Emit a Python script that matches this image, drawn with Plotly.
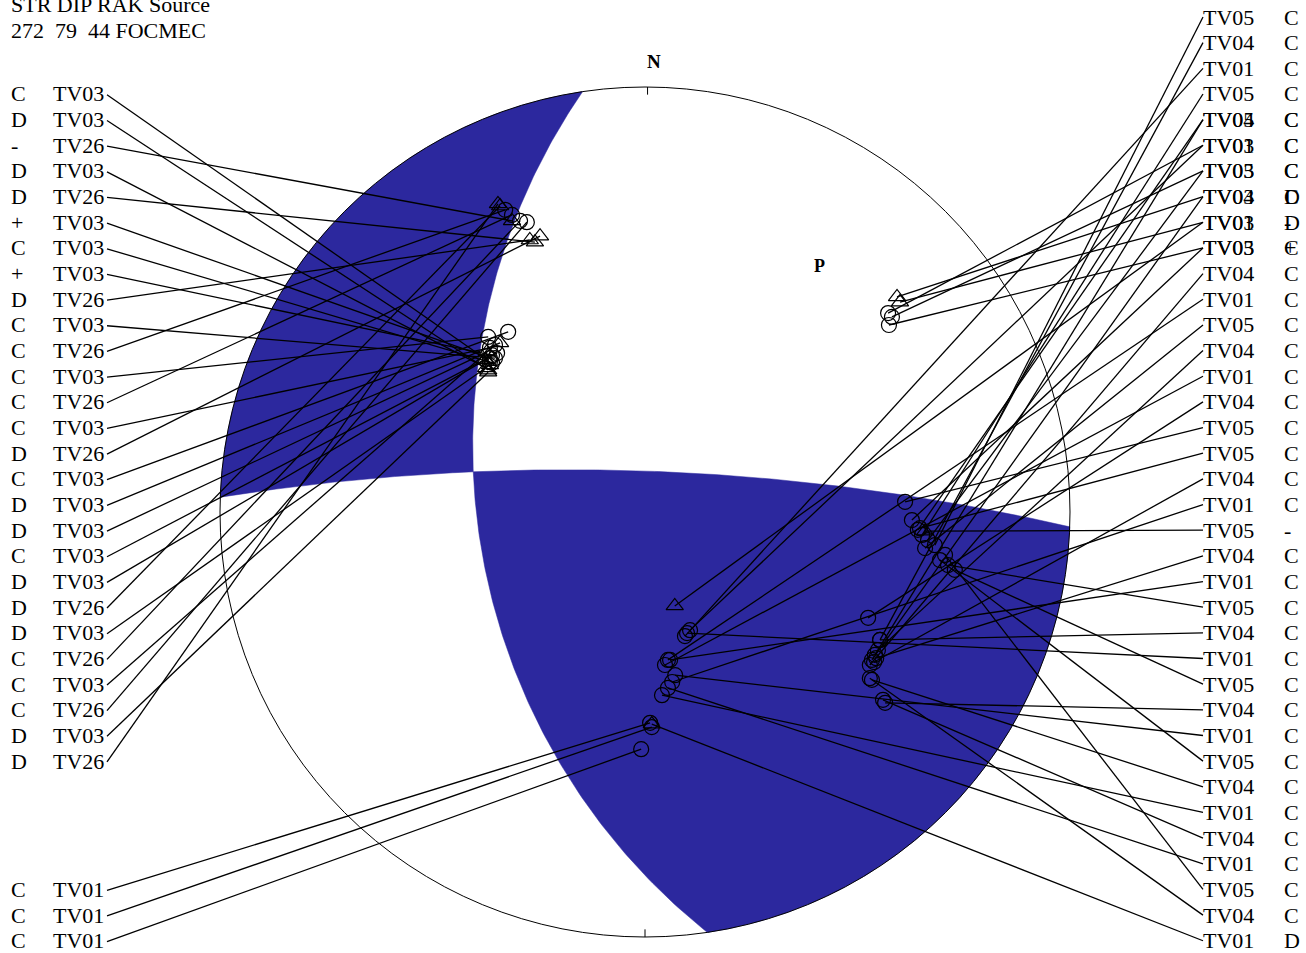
import numpy as np
import plotly.graph_objects as go

# ---------------- data ----------------
STRIKE, DIP, RAKE = 272, 79, 44
SOURCE = "FOCMEC"
HEADER = "STR DIP RAK Source"

# left column (top -> bottom): polarity, station, projected position (east, north; unit radius)
left_pol = ["C", "D", "-", "D", "D", "+", "C", "+", "D", "C", "C", "C", "C", "C", "D",
            "C", "D", "D", "C", "D", "D", "D", "C", "C", "C", "D", "D", "C", "C", "C"]
left_sta = ["TV03", "TV03", "TV26", "TV03", "TV26", "TV03", "TV03", "TV03", "TV26", "TV03",
            "TV26", "TV03", "TV26", "TV03", "TV26", "TV03", "TV03", "TV03", "TV03", "TV03",
            "TV26", "TV03", "TV26", "TV03", "TV26", "TV03", "TV26", "TV01", "TV01", "TV01"]
left_x = [-0.365, -0.369, -0.313, -0.374, -0.259, -0.365, -0.360, -0.360, -0.271, -0.353,
          -0.329, -0.369, -0.313, -0.365, -0.247, -0.322, -0.341, -0.372, -0.348, -0.376,
          -0.341, -0.365, -0.294, -0.353, -0.278, -0.369, -0.346, 0.012, 0.016, -0.009]
left_y = [0.353, 0.334, 0.685, 0.339, 0.635, 0.362, 0.351, 0.369, 0.640, 0.362,
          0.711, 0.412, 0.699, 0.386, 0.649, 0.424, 0.398, 0.376, 0.374, 0.358,
          0.720, 0.346, 0.685, 0.393, 0.682, 0.329, 0.725, -0.496, -0.506, -0.558]

# right column (top -> bottom)
right_sta = ["TV05", "TV04", "TV01", "TV05", "TV04", "TV01", "TV05", "TV04", "TV01", "TV05",
             "TV04", "TV01", "TV05", "TV04", "TV01", "TV04", "TV05", "TV05", "TV04", "TV01",
             "TV05", "TV04", "TV01", "TV05", "TV04", "TV01", "TV05", "TV04", "TV01", "TV05",
             "TV04", "TV01", "TV04", "TV01", "TV05", "TV04", "TV01"]
right_pol = ["C", "C", "C", "C", "C", "C", "C", "C", "D", "C",
             "C", "C", "C", "C", "C", "C", "C", "C", "C", "C",
             "-", "C", "C", "C", "C", "C", "C", "C", "C", "C",
             "C", "C", "C", "C", "C", "C", "D"]
right_x = [0.682, 0.553, 0.094, 0.652, 0.541, 0.106, 0.666, 0.534, 0.070, 0.628,
           0.529, 0.054, 0.659, 0.548, 0.047, 0.525, 0.612, 0.647, 0.539, 0.064,
           0.659, 0.544, 0.059, 0.713, 0.553, 0.099, 0.729, 0.565, 0.071, 0.694,
           0.534, 0.040, 0.560, 0.054, 0.706, 0.529, 0.016]
right_y = [-0.078, -0.301, -0.292, -0.054, -0.336, -0.278, -0.066, -0.348, -0.221, -0.019,
           -0.360, -0.348, -0.085, -0.325, -0.360, -0.249, 0.024, -0.038, -0.353, -0.400,
           -0.045, -0.344, -0.348, -0.125, -0.301, -0.285, -0.136, -0.449, -0.384, -0.113,
           -0.395, -0.431, -0.442, -0.414, -0.101, -0.391, -0.499]

# second (overprinted) right-column labels, rows 4..9
right2_sta = ["TV05", "TV03", "TV03", "TV03", "TV03", "TV03"]
right2_pol = ["C", "C", "C", "D", "-", "+"]
right2_x = [0.642, 0.572, 0.581, 0.593, 0.600, 0.574]
right2_y = [-0.042, 0.468, 0.459, 0.506, 0.494, 0.440]

# ---------------- layout constants (pixels) ----------------
W, H = 1306, 953
CX, CY, R_PX = 645, 512, 425
ROW0, ROW_DY = 17, 25.66
left_rows = list(range(3, 30)) + [34, 35, 36]
right_rows = list(range(0, 37))
right2_rows = list(range(4, 10))
BLUE = "rgb(44,40,158)"
FONT = "Liberation Serif"
FS = 22


def ux(p):
    return (p - CX) / R_PX


def uy(p):
    return (CY - p) / R_PX


def row_y(i):
    return uy(ROW0 + ROW_DY * i)


# ---------------- focal mechanism geometry ----------------
def plane_vectors(strike, dip):
    phi, dl = np.radians(strike), np.radians(dip)
    s = np.array([np.cos(phi), np.sin(phi), 0.0])
    d = np.array([np.cos(phi + np.pi / 2) * np.cos(dl),
                  np.sin(phi + np.pi / 2) * np.cos(dl), np.sin(dl)])
    return s, d


def stereo(v):
    v = np.atleast_2d(v)
    v = v / np.linalg.norm(v, axis=1)[:, None]
    v = np.where(v[:, 2:3] < 0, -v, v)
    plunge = np.arcsin(np.clip(v[:, 2], -1, 1))
    az = np.arctan2(v[:, 1], v[:, 0])
    r = np.tan((np.pi / 2 - plunge) / 2)
    return r * np.sin(az), r * np.cos(az)


phi, dl, lam = np.radians([STRIKE, DIP, RAKE])
n1 = np.array([-np.sin(dl) * np.sin(phi), np.sin(dl) * np.cos(phi), -np.cos(dl)])
u1 = np.array([np.cos(lam) * np.cos(phi) + np.sin(lam) * np.cos(dl) * np.sin(phi),
               np.cos(lam) * np.sin(phi) - np.sin(lam) * np.cos(dl) * np.cos(phi),
               -np.sin(lam) * np.sin(dl)])
n2 = u1 if u1[2] < 0 else -u1
dip2 = np.degrees(np.arccos(-n2[2]))
strike2 = (np.degrees(np.arctan2(n2[1], n2[0])) - 90) % 360

B = np.cross(n1, u1)
if B[2] < 0:
    B = -B
P_axis = (n1 - u1) / np.sqrt(2)

s1, d1 = plane_vectors(STRIKE, DIP)
s2, d2 = plane_vectors(strike2, dip2)
t1B = np.arctan2(B @ d1, B @ s1)
t2B = np.arctan2(B @ d2, B @ s2)


def plane_pts(s, d, t0, t1, n=120):
    t = np.linspace(t0, t1, n)
    v = np.cos(t)[:, None] * s + np.sin(t)[:, None] * d
    return stereo(v)


def arc(a0, a1, n=120):
    a = np.radians(np.linspace(a0, a1, n))
    return np.sin(a), np.cos(a)


# NW compressional quadrant
xa, ya = plane_pts(s1, d1, 0, t1B)
xb, yb = plane_pts(s2, d2, t2B, np.pi)
xc, yc = arc(strike2 + 180, STRIKE)
poly1_x = np.concatenate([xa, xb, xc])
poly1_y = np.concatenate([ya, yb, yc])
# SE compressional quadrant
xa, ya = plane_pts(s1, d1, t1B, np.pi)
xc, yc = arc((STRIKE + 180) % 360, strike2)
xb, yb = plane_pts(s2, d2, 0, t2B)
poly2_x = np.concatenate([xa, xc, xb])
poly2_y = np.concatenate([ya, yc, yb])

fig = go.Figure()
for px_, py_ in [(poly1_x, poly1_y), (poly2_x, poly2_y)]:
    fig.add_trace(go.Scatter(x=px_, y=py_, mode="lines", fill="toself",
                             fillcolor=BLUE, line=dict(color=BLUE, width=0.5),
                             hoverinfo="skip", showlegend=False))

# leader lines
lx, ly = [], []
LEFT_END = ux(107)
RIGHT_END = ux(1203)
for r, x, y in zip(left_rows, left_x, left_y):
    lx += [LEFT_END, x, None]
    ly += [row_y(r) - 0.002, y, None]
for r, x, y in zip(right_rows, right_x, right_y):
    lx += [RIGHT_END, x, None]
    ly += [row_y(r), y, None]
for r, x, y in zip(right2_rows, right2_x, right2_y):
    lx += [RIGHT_END, x, None]
    ly += [row_y(r), y, None]
fig.add_trace(go.Scatter(x=lx, y=ly, mode="lines", line=dict(color="black", width=1.3),
                         hoverinfo="skip", showlegend=False))

# station symbols
SYM = {"C": "circle-open", "+": "circle-open", "D": "triangle-up-open", "-": "triangle-up-open"}
all_x = left_x + right_x + right2_x
all_y = left_y + right_y + right2_y
all_pol = left_pol + right_pol + right2_pol
fig.add_trace(go.Scatter(x=all_x, y=all_y, mode="markers",
                         marker=dict(symbol=[SYM[p] for p in all_pol], size=15,
                                     color="black", line=dict(width=1.2, color="black")),
                         hoverinfo="skip", showlegend=False))


# text labels
def label(x, y, text, anchor="center", size=FS, bold=False):
    fig.add_annotation(x=x, y=y, xref="x", yref="y", text=f"<b>{text}</b>" if bold else text,
                       showarrow=False, xanchor=anchor, yanchor="middle",
                       font=dict(family=FONT, size=size, color="black"))


for r, p, s in zip(left_rows, left_pol, left_sta):
    label(ux(9), row_y(r), p, anchor="left")
    label(ux(78), row_y(r), s)
for r, p, s in zip(right_rows, right_pol, right_sta):
    label(ux(1228), row_y(r), s)
    label(ux(1282), row_y(r), p, anchor="left")
for r, p, s in zip(right2_rows, right2_pol, right2_sta):
    label(ux(1228), row_y(r), s)
    label(ux(1282), row_y(r), p, anchor="left")

NB = "\u00a0"
label(ux(9), uy(4), HEADER, anchor="left")
label(ux(9), uy(30), f"{STRIKE}{NB}{NB}{DIP}{NB}{NB}{RAKE}{NB}{SOURCE}", anchor="left")
label(0.02, 1.06, "N", size=19, bold=True)
pxp, pyp = stereo(P_axis)
label(pxp[0] + 0.014, pyp[0] + 0.008, "P", size=18, bold=True)

# primitive circle and N/S ticks
fig.add_shape(type="circle", xref="x", yref="y", x0=-1, y0=-1, x1=1, y1=1,
              line=dict(color="black", width=1), layer="above")
fig.add_shape(type="line", xref="x", yref="y", x0=0.006, x1=0.006, y0=1.0, y1=0.982,
              line=dict(color="black", width=1))
fig.add_shape(type="line", xref="x", yref="y", x0=0, x1=0, y0=-1.0, y1=-0.982,
              line=dict(color="black", width=1))

fig.update_layout(
    width=W, height=H, margin=dict(l=0, r=0, t=0, b=0),
    paper_bgcolor="white", plot_bgcolor="white", showlegend=False,
    xaxis=dict(range=[ux(0), ux(W)], visible=False, fixedrange=True),
    yaxis=dict(range=[uy(H), uy(0)], visible=False, fixedrange=True),
)

fig.write_html("out.html", config={"displayModeBar": False},
               post_script="document.body.style.margin='0';document.body.style.overflow='hidden';")
